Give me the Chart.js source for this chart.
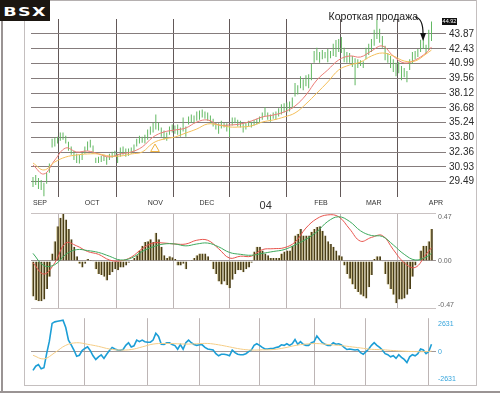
<!DOCTYPE html>
<html><head><meta charset="utf-8">
<script src="https://cdn.jsdelivr.net/npm/chart.js@4.4.1/dist/chart.umd.min.js"></script>
<style>
html,body{margin:0;padding:0;background:#fff;}
#wrap{position:relative;width:500px;height:393px;overflow:hidden;background:#fff;}
#wrap canvas{position:absolute;left:0;}
.fl{position:absolute;}
#logo{position:absolute;left:0;top:0;width:50px;height:21px;background:#1b1611;color:#fff;text-align:center;line-height:21px;}
#logo span{display:inline-block;font:bold 13px 'DejaVu Sans',sans-serif;letter-spacing:1px;transform:scaleX(1.35);}
</style></head><body>
<div id="wrap">
<div class="fl" style="left:50px;top:0;width:427px;height:1px;background:#b5b0b0"></div>
<div class="fl" style="left:476px;top:0;width:1px;height:386px;background:#c4bfbf"></div>
<div class="fl" style="left:24px;top:21px;width:1px;height:365px;background:#c4bfbf"></div>
<div class="fl" style="left:24px;top:385px;width:453px;height:1px;background:#c4bfbf"></div>
<div class="fl" style="left:1px;top:21px;width:2px;height:372px;background:#9a9494"></div>
<div class="fl" style="left:0;top:391px;width:500px;height:2px;background:#9a9494"></div>
<canvas id="cPrice" width="500" height="212" style="top:0"></canvas>
<canvas id="cMacd" width="500" height="110" style="top:205px"></canvas>
<canvas id="cOsc" width="500" height="80" style="top:312px"></canvas>
<div id="logo"><span>BSX</span></div>
</div>
<script>
// ---------- DATA ----------
const ticker = 'BSX';
const monthStarts = [0, 19, 42, 61, 83, 103, 122, 145];
const monthLabels = ['SEP', 'OCT', 'NOV', 'DEC', '04', 'FEB', 'MAR', 'APR'];
const priceTicks = [29.49, 30.93, 32.36, 33.80, 35.24, 36.68, 38.12, 39.56, 40.99, 42.43, 43.87];
const macdTicks = [-0.47, 0, 0.47];
const oscTicks = [-2631, 0, 2631];
const lastClose = 44.92;
const noteText = 'Короткая продажа';
const noteDay = 142.9, notePrice = 43.19;
const signalDay = 44.7, signalPrice = 32.67;

const priceLow = [
 28.98,29.18,28.78,28.68,28.08,29.28,30.35,32.81,32.91,33.21,33.47,33.57,33.21,32.51,32.11,31.61,31.31,31.25,31.61,
 32.21,32.51,32.81,32.21,31.31,31.31,31.41,31.51,31.15,31.61,31.81,31.91,31.31,31.91,32.11,31.91,32.01,32.21,32.41,32.91,33.21,33.27,33.21,
 33.57,34.07,34.27,34.57,34.47,33.87,33.57,33.47,34.07,34.27,34.17,34.07,33.87,34.37,33.87,35.07,35.23,35.17,35.43,
 35.53,35.73,35.63,35.43,35.17,34.87,34.57,34.17,34.67,34.77,34.37,33.87,34.97,35.17,34.87,34.77,34.27,34.57,34.87,34.77,34.97,35.07,
 35.17,35.53,35.83,35.53,35.33,35.63,35.53,35.83,36.03,36.23,36.23,36.33,36.63,37.79,37.99,38.59,38.39,38.79,38.59,39.36,
 41.06,41.32,41.06,41.42,41.52,41.12,41.52,41.72,41.62,42.12,42.02,41.12,41.06,41.06,40.66,38.89,40.56,40.76,40.56,
 41.42,41.82,42.12,42.72,43.38,43.02,42.52,41.32,41.06,40.56,40.16,39.76,40.06,39.36,39.66,39.16,40.36,40.96,41.42,41.62,42.12,42.42,41.92,
 42.32,43.18];
const priceHigh = [
 29.95,30.15,29.85,29.65,29.38,30.35,31.25,33.67,33.77,33.87,34.27,34.27,33.97,33.37,32.91,32.51,32.21,32.11,32.31,
 32.91,33.41,33.57,33.01,31.81,31.91,32.01,32.11,31.91,32.21,32.41,32.51,32.21,32.81,32.91,32.71,32.71,32.81,33.11,33.67,33.97,33.87,34.07,
 34.57,34.87,35.23,36.03,35.23,34.77,34.47,34.27,34.87,35.07,34.97,35.07,34.77,35.73,34.87,35.83,36.03,35.93,36.33,
 36.43,36.53,36.33,36.23,35.93,35.63,35.23,35.17,35.43,35.23,35.17,34.97,35.73,35.73,35.53,35.43,35.17,35.23,35.43,35.33,35.53,35.63,
 35.83,36.23,36.73,36.23,36.03,36.23,36.33,36.63,37.03,37.13,37.21,37.31,37.69,39.09,38.89,39.76,39.46,39.86,39.96,40.96,
 42.22,42.52,42.12,42.32,42.12,42.42,42.22,42.92,43.28,43.38,43.58,42.52,42.12,42.02,41.72,41.52,41.42,41.32,41.22,
 42.52,42.92,43.38,44.28,45.28,44.38,43.68,42.72,42.02,41.72,41.42,41.06,41.16,40.76,40.56,40.26,41.42,42.12,42.22,42.42,43.32,43.58,42.82,
 44.28,45.08];

const maDays = [0,4,8,12,16,20,24,28,32,36,40,44,48,52,56,60,64,68,72,76,80,84,88,92,96,100,104,108,112,116,120,124,128,132,136,140,144,146];
const maFast = [31.12,30.24,31.60,32.77,32.38,32.48,32.19,31.90,32.19,32.38,32.87,33.84,34.33,34.52,34.72,35.30,35.50,35.01,35.01,35.11,35.40,35.79,35.98,36.28,36.86,37.93,39.39,40.37,41.34,41.73,41.63,42.22,42.70,41.73,41.05,41.34,42.02,42.61];
const maSlow = [31.31,30.63,31.41,31.89,32.09,32.19,32.19,31.99,31.99,32.19,32.38,33.26,33.65,33.84,34.23,34.62,35.11,35.01,34.82,34.82,34.92,35.30,35.50,35.79,36.18,37.06,38.12,39.20,40.37,40.85,41.14,41.73,42.02,41.73,41.24,41.24,41.92,42.31];

const macdHist = [
 -0.38,-0.42,-0.43,-0.43,-0.41,-0.30,-0.17,0.08,0.21,0.37,0.46,0.50,0.44,0.34,0.23,0.15,0.05,-0.03,-0.07,
 -0.03,0.02,0.01,-0.01,-0.09,-0.14,-0.15,-0.17,-0.21,-0.15,-0.12,-0.09,-0.10,-0.07,-0.07,-0.05,-0.02,0.01,0.03,0.06,0.11,0.16,0.20,
 0.21,0.23,0.20,0.30,0.23,0.15,0.06,0.03,0.05,0.04,0.02,-0.05,-0.05,-0.03,-0.09,0.00,0.01,0.03,0.06,
 0.08,0.08,0.08,0.05,0.01,-0.09,-0.14,-0.22,-0.25,-0.22,-0.26,-0.29,-0.20,-0.14,-0.10,-0.10,-0.12,-0.09,-0.07,-0.02,0.10,0.15,
 0.15,0.11,0.08,0.06,0.03,0.03,0.03,0.03,0.08,0.10,0.11,0.11,0.16,0.27,0.29,0.34,0.27,0.27,0.27,0.31,
 0.34,0.36,0.37,0.32,0.27,0.21,0.18,0.15,0.11,0.06,0.05,-0.05,-0.14,-0.19,-0.25,-0.30,-0.33,-0.36,-0.38,
 -0.40,-0.28,-0.15,0.02,0.05,0.05,-0.01,-0.14,-0.25,-0.30,-0.36,-0.45,-0.41,-0.41,-0.40,-0.36,-0.30,-0.17,-0.05,0.00,0.11,0.16,0.16,
 0.21,0.34];
const macdLine = [-0.02,-0.14,-0.02,0.19,0.16,0.10,0.07,0.01,0.00,0.04,0.13,0.19,0.19,0.18,0.18,0.22,0.22,0.13,0.03,0.05,0.05,0.12,0.13,0.14,0.20,0.35,0.45,0.49,0.47,0.34,0.21,0.25,0.27,0.12,-0.02,-0.07,0.07,0.14];
const macdSignal = [0.08,-0.05,-0.04,0.07,0.12,0.11,0.09,0.05,0.01,0.03,0.10,0.15,0.18,0.18,0.16,0.18,0.19,0.15,0.09,0.07,0.06,0.08,0.10,0.12,0.17,0.23,0.31,0.42,0.47,0.42,0.32,0.27,0.26,0.17,0.07,0.01,0.04,0.08];

const osc = [
 -1800,-1400,-1250,-1650,-1550,-200,1000,2700,2850,2900,2950,3000,2300,1100,650,150,-450,-350,100,
 300,450,100,-400,-750,-500,-320,-650,-250,100,400,250,150,130,200,600,850,450,550,1100,950,1100,950,
 900,900,1100,1750,1450,700,680,850,850,680,580,230,680,230,850,1100,850,680,600,
 650,650,400,250,200,150,-200,-400,-250,-250,-300,-400,150,-100,-250,-300,-300,-200,0,
 150,600,750,600,400,250,250,300,
 300,400,450,650,600,750,600,750,1150,700,950,700,
 600,600,850,950,1500,1150,850,700,600,600,850,700,
 750,650,400,200,250,200,150,200,
 -100,-250,0,250,600,850,600,400,150,-200,-300,-500,-400,-650,-300,-550,-750,-1050,-500,-300,-400,-200,250,150,-200,0,700];
const oscAvg = [-350,-700,-100,600,850,700,500,250,150,200,450,720,780,760,720,750,780,650,450,250,150,170,200,350,580,720,770,680,600,480,350,220,180,100,40,0,0,50];

// ---------- HELPERS ----------
Chart.defaults.font.family = "'Liberation Sans', Arial, sans-serif";
const X_MIN = -0.73, X_MAX = 146.55;
const pts = (xs, ys) => xs.map((d, k) => ({x: d, y: ys[k]}));
const daily = ys => ys.map((v, i) => ({x: i, y: v}));
const common = (pad) => ({
  responsive: false, animation: false, events: [],
  layout: {padding: pad},
  plugins: {legend: {display: false}, tooltip: {enabled: false}}
});
const monthAxis = (color, withLabels) => ({
  type: 'linear', min: X_MIN, max: X_MAX, offset: false,
  afterBuildTicks: s => { s.ticks = monthStarts.map(v => ({value: v})); },
  afterFit: s => { s.height = withLabels ? 15 : 0; },
  border: {display: false},
  grid: {drawTicks: false, lineWidth: 1, color: c => c.index === 0 ? 'rgba(0,0,0,0)' : color},
  ticks: withLabels ? {
    autoSkip: false, maxRotation: 0, align: 'start', padding: 2, color: '#333',
    callback: (v, i) => monthLabels[i],
    font: c => (monthLabels[c.index] === '04' ? {size: 11} : {size: 7})
  } : {display: false}
});

// ---------- PRICE PANEL ----------
const notesPlugin = {
  id: 'notes',
  afterDatasetsDraw(chart) {
    const {ctx, chartArea, scales: {x, y}} = chart;
    ctx.save();
    const ty = Math.round(y.getPixelForValue(lastClose));
    const tx = chartArea.right + 9;
    ctx.fillStyle = '#111';
    ctx.fillRect(tx, ty - 5, 15, 7);
    ctx.fillStyle = '#fff';
    ctx.font = "5.5px 'Liberation Sans'";
    ctx.textAlign = 'center'; ctx.textBaseline = 'middle';
    ctx.fillText(lastClose.toFixed(2), tx + 7.5, ty - 1.5);
    const ax = x.getPixelForValue(noteDay), ay = y.getPixelForValue(notePrice);
    ctx.strokeStyle = '#111'; ctx.lineWidth = 1.2;
    ctx.beginPath(); ctx.moveTo(ax - 8, ay - 24); ctx.quadraticCurveTo(ax, ay - 23, ax, ay - 7); ctx.stroke();
    ctx.fillStyle = '#111';
    ctx.beginPath(); ctx.moveTo(ax - 3, ay - 8); ctx.lineTo(ax + 3, ay - 8); ctx.lineTo(ax, ay); ctx.closePath(); ctx.fill();
    ctx.fillStyle = '#1a1a1a';
    ctx.font = "10.5px 'Liberation Sans'";
    ctx.textAlign = 'right'; ctx.textBaseline = 'alphabetic';
    ctx.fillText(noteText, ax - 5, ay - 21);
    ctx.restore();
  }
};

new Chart(document.getElementById('cPrice'), {
  type: 'bar',
  data: {datasets: [
    {type: 'line', data: pts(maDays, maSlow), borderColor: '#f4bf5a', borderWidth: 1, pointRadius: 0, tension: 0.4},
    {type: 'line', data: pts(maDays, maFast), borderColor: '#ec7c76', borderWidth: 1, pointRadius: 0, tension: 0.4},
    {type: 'bar', data: priceLow.map((l, i) => ({x: i, y: [l, priceHigh[i]]})), backgroundColor: '#62b862',
     barThickness: 1, inflateAmount: 0, borderWidth: 0},
    {type: 'line', data: [{x: signalDay, y: signalPrice}], showLine: false, pointStyle: 'triangle', pointRadius: 5,
     borderColor: '#efb13c', backgroundColor: 'rgba(0,0,0,0)', borderWidth: 1}
  ]},
  options: Object.assign(common({left: 31, top: 19, right: 0, bottom: 0}), {
    scales: {
      x: monthAxis('#625858', true),
      y: {
        position: 'right', min: 28.0, max: 45.33,
        afterBuildTicks: s => { s.ticks = priceTicks.map(v => ({value: v})); },
        afterFit: s => { s.width = 67; },
        border: {display: false},
        grid: {color: '#857c7c', tickLength: 13},
        ticks: {padding: 3, color: '#2a2a2a', font: {size: 10}, callback: v => v.toFixed(2)}
      }
    }
  }),
  plugins: [notesPlugin]
});

// ---------- MACD PANEL ----------
const MACD_LIM = 0.51;
new Chart(document.getElementById('cMacd'), {
  type: 'bar',
  data: {datasets: [
    {type: 'line', data: pts(maDays, macdSignal), borderColor: '#3eaa5e', borderWidth: 1, pointRadius: 0, tension: 0.4},
    {type: 'line', data: pts(maDays, macdLine), borderColor: '#e8554e', borderWidth: 1, pointRadius: 0, tension: 0.4},
    {type: 'bar', data: daily(macdHist), backgroundColor: '#4a3e17', borderColor: '#cdbf88',
     borderWidth: {left: 1, right: 0, top: 0, bottom: 0}, borderSkipped: false, barThickness: 2.73, inflateAmount: 0}
  ]},
  options: Object.assign(common({left: 31, top: 8, right: 0, bottom: 2}), {
    scales: {
      x: monthAxis('#bdb5b5', false),
      y: {
        position: 'right', min: -MACD_LIM, max: MACD_LIM,
        afterBuildTicks: s => { s.ticks = [-MACD_LIM, ...macdTicks, MACD_LIM].map(v => ({value: v})); },
        afterFit: s => { s.width = 67; },
        border: {display: false},
        grid: {tickLength: 3, color: c => {
          const v = c.tick ? c.tick.value : 0;
          if (Math.abs(v) === MACD_LIM) return '#c9c2c2';
          if (v === 0) return '#9e9696';
          return 'rgba(0,0,0,0)';
        }},
        ticks: {padding: 2, color: '#666', font: {size: 7},
          callback: v => macdTicks.includes(v) ? v.toFixed(2) : ''}
      }
    }
  })
});

// ---------- OSCILLATOR PANEL ----------
const OSC_LIM = 3200;
new Chart(document.getElementById('cOsc'), {
  type: 'line',
  data: {datasets: [
    {data: pts(maDays, oscAvg), borderColor: '#f5cd86', borderWidth: 1, pointRadius: 0, tension: 0.4},
    {data: daily(osc), borderColor: '#1c9ed6', borderWidth: 1.6, pointRadius: 0, tension: 0}
  ]},
  options: Object.assign(common({left: 31, top: 2, right: 0, bottom: 7}), {
    scales: {
      x: monthAxis('#bdb5b5', false),
      y: {
        position: 'right', min: -OSC_LIM, max: OSC_LIM,
        afterBuildTicks: s => { s.ticks = [-OSC_LIM, ...oscTicks, OSC_LIM].map(v => ({value: v})); },
        afterFit: s => { s.width = 67; },
        border: {display: false},
        grid: {tickLength: 3, color: c => (c.tick && c.tick.value === 0) ? '#a09898' : 'rgba(0,0,0,0)'},
        ticks: {padding: 2, color: '#34a4dc', font: {size: 7},
          callback: v => oscTicks.includes(v) ? String(v) : ''}
      }
    }
  })
});
</script>
</body></html>
